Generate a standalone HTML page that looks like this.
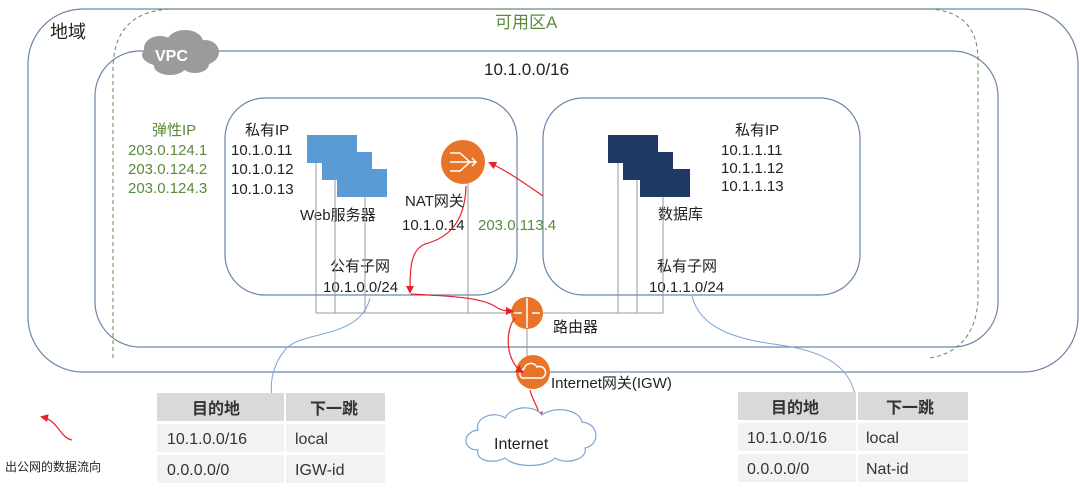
<!DOCTYPE html>
<html><head><meta charset="utf-8"><style>
body{margin:0;background:#fff;}
svg text{font-family:"Liberation Sans","Noto Sans CJK SC",sans-serif;}
</style></head><body>
<svg width="1080" height="486" viewBox="0 0 1080 486" xmlns="http://www.w3.org/2000/svg">
<defs>
<marker id="ar" markerWidth="8" markerHeight="8" refX="6" refY="4" orient="auto" markerUnits="userSpaceOnUse"><path d="M0,0 L8,4 L0,8 z" fill="#e8202a"/></marker>
</defs>
<!-- region -->
<rect x="28" y="9" width="1050" height="363" rx="55" fill="none" stroke="#6b86a8" stroke-width="1.2"/>
<text x="50" y="38" font-size="18" fill="#222">地域</text>
<!-- AZ dashed -->
<path d="M113,358 L113,70 Q113,12 170,9 L930,9 Q978,12 978,60 L978,300 Q975,350 930,358" fill="none" stroke="#6a8a4a" stroke-dasharray="4,3" stroke-width="1"/>
<text x="495" y="28" font-size="17" fill="#5a8a3a">可用区A</text>
<!-- VPC -->
<rect x="95" y="51" width="903" height="296" rx="45" fill="none" stroke="#6b86a8" stroke-width="1.2"/>
<g fill="#9b9b9b">
<ellipse cx="180" cy="55" rx="38" ry="14"/><ellipse cx="160" cy="48" rx="16" ry="12"/><ellipse cx="185" cy="42" rx="18" ry="12"/><ellipse cx="205" cy="52" rx="14" ry="12"/><ellipse cx="170" cy="66" rx="16" ry="9"/><ellipse cx="195" cy="64" rx="14" ry="9"/>
</g>
<text x="155" y="61" font-size="16" font-weight="bold" fill="#fff">VPC</text>
<text x="484" y="75" font-size="17" fill="#222">10.1.0.0/16</text>
<!-- elastic IP -->
<g font-size="15" fill="#5a8a3a"><text x="152" y="135">弹性IP</text><text x="128" y="155">203.0.124.1</text><text x="128" y="174">203.0.124.2</text><text x="128" y="193">203.0.124.3</text></g>
<!-- subnets -->
<rect x="225" y="98" width="292" height="197" rx="40" fill="none" stroke="#6b86a8" stroke-width="1.2"/>
<rect x="543" y="98" width="317" height="197" rx="40" fill="none" stroke="#6b86a8" stroke-width="1.2"/>
<g font-size="15" fill="#222"><text x="245" y="135">私有IP</text><text x="231" y="155">10.1.0.11</text><text x="231" y="174">10.1.0.12</text><text x="231" y="194">10.1.0.13</text>
<text x="300" y="220">Web服务器</text><text x="402" y="230">10.1.0.14</text><text x="405" y="206">NAT网关</text>
<text x="330" y="271">公有子网</text><text x="323" y="292">10.1.0.0/24</text>
<text x="735" y="135">私有IP</text><text x="721" y="155">10.1.1.11</text><text x="721" y="173">10.1.1.12</text><text x="721" y="191">10.1.1.13</text>
<text x="658" y="219">数据库</text><text x="657" y="271">私有子网</text><text x="649" y="292">10.1.1.0/24</text>
<text x="553" y="332">路由器</text></g>
<text x="478" y="230" font-size="15" fill="#5a8a3a">203.0.113.4</text>
<!-- gray lines -->
<g stroke="#999" stroke-width="1" fill="none">
<path d="M316,163 V313 M335,180 V313 M365,197 V313 M468,180 V313 M316,313 H663 M618,163 V313 M637,180 V313 M663,197 V313 M527,313 V372"/>
</g>
<!-- servers -->
<g fill="#5b9bd5"><rect x="307" y="135" width="50" height="28"/><rect x="322" y="152" width="50" height="28"/><rect x="337" y="169" width="50" height="28"/></g>
<g fill="#1f3864"><rect x="608" y="135" width="50" height="28"/><rect x="623" y="152" width="50" height="28"/><rect x="640" y="169" width="50" height="28"/></g>
<!-- NAT -->
<circle cx="463" cy="162" r="22" fill="#e8742a"/>
<g stroke="#fff" stroke-width="1.5" fill="none"><path d="M450,153 H460 L470,162 M450,162 H476 M450,171 H460 L470,162 M472,158 L476,162 L472,166"/></g>
<!-- router -->
<circle cx="527" cy="313" r="16" fill="#e8742a"/>
<g stroke="#fff" stroke-width="1.5"><path d="M527,298 V328 M514,313 H522 M532,313 H540"/></g>
<!-- IGW -->
<circle cx="533" cy="372" r="17" fill="#e8742a"/>
<path d="M522,378 a5,5 0 0 1 2,-9 a7,7 0 0 1 13,-2 a5,5 0 0 1 5,11 z" fill="none" stroke="#fff" stroke-width="1.5"/>
<text x="551" y="388" font-size="15" fill="#222">Internet网关(IGW)</text>
<!-- blue curves -->
<path d="M370,298 C360,340 300,330 285,350 C272,365 270,385 272,395" fill="none" stroke="#7aa6d6" stroke-width="1"/>
<path d="M692,296 C700,330 740,340 780,345 C830,352 850,370 855,395" fill="none" stroke="#7aa6d6" stroke-width="1"/>
<!-- red flow -->
<g stroke="#e8202a" stroke-width="1.2" fill="none">
<path d="M543,196 C520,180 505,170 490,163" marker-end="url(#ar)"/>
<path d="M466,186 C465,230 440,240 425,244 C410,250 410,270 410,292" marker-end="url(#ar)"/>
<path d="M411,294 C440,296 480,296 496,307 C502,311 508,311 512,311" marker-end="url(#ar)"/>
<path d="M515,318 C505,330 505,360 522,372" marker-end="url(#ar)"/>
<path d="M530,390 C532,400 538,405 540,418" marker-end="url(#ar)"/>
<path d="M72,440 C60,438 58,420 42,417" marker-end="url(#ar)"/>
</g>
<!-- internet cloud -->
<path d="M478,450 C462,450 462,432 478,430 C474,418 494,410 505,418 C512,405 535,405 542,415 C555,405 580,410 582,422 C600,424 600,445 585,448 C588,460 565,465 555,458 C545,468 515,468 505,458 C492,465 475,460 478,450 z" fill="#fff" stroke="#7aa6d6" stroke-width="1.2"/>
<text x="494" y="449" font-size="16" fill="#222">Internet</text>
<!-- legend -->
<text x="5" y="471" font-size="12" fill="#222">出公网的数据流向</text>
<!-- tables -->
<g font-size="16" fill="#333">
<rect x="157" y="393" width="127" height="28" fill="#d9d9d9"/><rect x="286" y="393" width="99" height="28" fill="#d9d9d9"/>
<rect x="157" y="424" width="127" height="28" fill="#f2f2f2"/><rect x="286" y="424" width="99" height="28" fill="#f2f2f2"/>
<rect x="157" y="455" width="127" height="28" fill="#f2f2f2"/><rect x="286" y="455" width="99" height="28" fill="#f2f2f2"/>
<text x="192" y="414" font-weight="bold">目的地</text><text x="310" y="414" font-weight="bold">下一跳</text>
<text x="167" y="444">10.1.0.0/16</text><text x="295" y="444">local</text>
<text x="167" y="475">0.0.0.0/0</text><text x="295" y="475">IGW-id</text>
<rect x="738" y="392" width="118" height="28" fill="#d9d9d9"/><rect x="858" y="392" width="110" height="28" fill="#d9d9d9"/>
<rect x="738" y="423" width="118" height="28" fill="#f2f2f2"/><rect x="858" y="423" width="110" height="28" fill="#f2f2f2"/>
<rect x="738" y="454" width="118" height="28" fill="#f2f2f2"/><rect x="858" y="454" width="110" height="28" fill="#f2f2f2"/>
<text x="771" y="413" font-weight="bold">目的地</text><text x="886" y="413" font-weight="bold">下一跳</text>
<text x="747" y="443">10.1.0.0/16</text><text x="866" y="443">local</text>
<text x="747" y="474">0.0.0.0/0</text><text x="866" y="474">Nat-id</text>
</g>
</svg>
</body></html>
